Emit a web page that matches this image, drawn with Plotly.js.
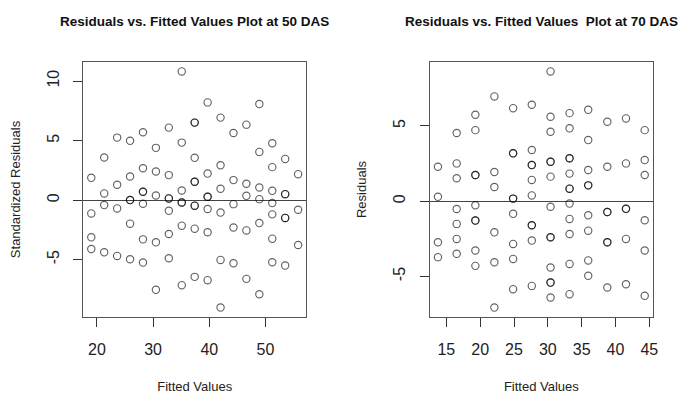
<!DOCTYPE html>
<html>
<head>
<meta charset="utf-8">
<script src="https://cdn.plot.ly/plotly-3.0.1.min.js"></script>
<style>html,body{margin:0;padding:0;background:#fff;}#chart{width:680px;height:394px;}</style>
</head>
<body>
<div id="chart"></div>
<script>
// ---- Data ----
const title50 = "Residuals vs. Fitted Values Plot at 50 DAS";
const title70 = "Residuals vs. Fitted Values\u00a0 Plot at 70 DAS";
const xLabel = "Fitted Values";
const yLabel50 = "Standardized Residuals";
const yLabel70 = "Residuals";
const xTicks50 = [20, 30, 40, 50];
const yTicks50 = [-5, 0, 5, 10];
const xTicks70 = [15, 20, 25, 30, 35, 40, 45];
const yTicks70 = [-5, 0, 5];

const fitted50 = [
  19.0,19.0,19.0,19.0,
  21.3,21.3,21.3,21.3,
  23.6,23.6,23.6,23.6,
  25.9,25.9,25.9,25.9,25.9,25.9,
  28.2,28.2,28.2,28.2,28.2,28.2,28.2,
  30.5,30.5,30.5,30.5,30.5,
  32.8,32.8,32.8,32.8,32.8,32.8,32.8,
  35.1,35.1,35.1,35.1,35.1,35.1,35.1,
  37.4,37.4,37.4,37.4,37.4,37.4,37.4,37.4,37.4,
  39.7,39.7,39.7,39.7,39.7,39.7,39.7,
  42.0,42.0,42.0,42.0,42.0,42.0,
  44.3,44.3,44.3,44.3,44.3,
  46.6,46.6,46.6,46.6,46.6,
  48.9,48.9,48.9,48.9,48.9,48.9,
  51.2,51.2,51.2,51.2,51.2,51.2,51.2,
  53.5,53.5,53.5,53.5,53.5,53.5,
  55.8,55.8,55.8
];
const resid50 = [
  1.87,-1.12,-3.13,-4.11,
  3.58,0.56,-0.42,-4.39,
  5.25,1.29,-0.70,-4.69,
  4.98,1.98,0.00,0.00,-1.98,-4.97,
  5.70,2.68,0.70,0.70,-0.31,-3.30,-5.25,
  4.39,2.40,0.39,-3.55,-7.54,
  6.09,2.10,0.14,0.14,-0.90,-2.85,-4.89,
  10.81,4.83,0.81,-0.20,-0.20,-2.15,-7.15,
  6.51,6.51,3.55,1.54,1.54,-0.47,-0.47,-2.40,-6.45,
  8.21,2.23,0.28,0.28,-0.75,-2.70,-6.73,
  6.93,2.93,0.95,-1.05,-5.03,-9.03,
  5.64,1.68,-0.34,-2.30,-5.31,
  6.34,1.37,0.36,-2.55,-6.62,
  8.07,4.05,1.06,0.08,-1.93,-7.91,
  4.78,2.77,0.78,-0.25,-1.20,-3.24,-5.22,
  3.46,0.50,0.50,-1.50,-1.50,-5.50,
  2.18,-0.81,-3.77
];

const fitted70 = [
  13.76,13.76,13.76,13.76,
  16.53,16.53,16.53,16.53,16.53,16.53,16.53,
  19.29,19.29,19.29,19.29,19.29,19.29,19.29,19.29,19.29,
  22.10,22.10,22.10,22.10,22.10,22.10,
  24.87,24.87,24.87,24.87,24.87,24.87,24.87,24.87,24.87,
  27.63,27.63,27.63,27.63,27.63,27.63,27.63,27.63,27.63,27.63,
  30.40,30.40,30.40,30.40,30.40,30.40,30.40,30.40,30.40,30.40,30.40,30.40,30.40,
  33.21,33.21,33.21,33.21,33.21,33.21,33.21,33.21,33.21,33.21,33.21,33.21,
  35.97,35.97,35.97,35.97,35.97,35.97,35.97,35.97,35.97,
  38.79,38.79,38.79,38.79,38.79,38.79,38.79,
  41.55,41.55,41.55,41.55,41.55,41.55,
  44.32,44.32,44.32,44.32,44.32,44.32
];
const resid70 = [
  2.29,0.29,-2.73,-3.72,
  4.53,2.51,1.52,-0.52,-1.51,-2.51,-3.50,
  5.74,4.72,1.74,1.74,-0.27,-1.29,-1.29,-3.28,-4.30,
  6.96,1.94,0.94,-2.07,-4.06,-7.07,
  6.18,3.18,3.18,0.17,0.17,-0.84,-2.84,-3.84,-5.85,
  6.41,3.40,2.40,2.40,1.41,0.38,-1.60,-1.60,-2.62,-5.63,
  8.62,5.61,4.61,2.62,2.62,1.63,-0.37,-2.40,-2.40,-4.41,-5.41,-5.41,-6.40,
  5.85,4.84,2.85,2.85,1.83,0.83,0.83,-0.16,-1.18,-2.18,-4.17,-6.18,
  6.07,4.06,2.07,1.05,1.05,-0.94,-1.96,-3.94,-4.96,
  5.28,2.29,-0.72,-0.72,-2.73,-2.73,-5.74,
  5.50,2.51,-0.51,-0.51,-2.51,-5.52,
  4.72,2.73,1.74,-1.27,-3.28,-6.29
];

// R-style axis range: data range extended by 4% on each side
function rRange(v) {
  const lo = Math.min(...v), hi = Math.max(...v), d = hi - lo;
  return [lo - 0.04 * d, hi + 0.04 * d];
}

const FONT = "Liberation Sans, Arial, Helvetica, sans-serif";
const TXT = "#222";

const marker = {
  symbol: "circle-open",
  size: 7.3,
  color: "rgba(0,0,0,0.62)",
  line: { width: 1.15, color: "rgba(0,0,0,0.62)" }
};

const traces = [
  { x: fitted50, y: resid50, type: "scatter", mode: "markers", marker: marker,
    xaxis: "x", yaxis: "y", hoverinfo: "x+y" },
  { x: fitted70, y: resid70, type: "scatter", mode: "markers", marker: marker,
    xaxis: "x2", yaxis: "y2", hoverinfo: "x+y" }
];

function xAxis(range, ticks, domain, anchor) {
  return {
    domain: domain, anchor: anchor, range: range,
    tickmode: "array", tickvals: ticks, ticktext: ticks.map(String),
    ticks: "outside", ticklen: 9, tickwidth: 1, tickcolor: "#333",
    showline: true, mirror: true, linecolor: "#555", linewidth: 1,
    showgrid: false, zeroline: false,
    tickfont: { family: FONT, size: 16, color: TXT },
    ticklabelstandoff: 9,
    title: { text: xLabel, font: { family: FONT, size: 13, color: TXT }, standoff: 31 }
  };
}
function yAxis(range, ticks, domain, anchor, label) {
  return {
    domain: domain, anchor: anchor, range: range,
    tickmode: "array", tickvals: ticks, ticktext: ticks.map(String),
    tickangle: -90,
    ticks: "outside", ticklen: 9, tickwidth: 1, tickcolor: "#333",
    showline: true, mirror: true, linecolor: "#555", linewidth: 1,
    showgrid: false,
    zeroline: true, zerolinecolor: "#444", zerolinewidth: 1,
    tickfont: { family: FONT, size: 16, color: TXT },
    ticklabelstandoff: 8,
    title: { text: label, font: { family: FONT, size: 13, color: TXT }, standoff: 21 }
  };
}

const layout = {
  width: 680, height: 394,
  margin: { l: 83.3, r: 26.7, t: 62, b: 77.3, pad: 0 },
  paper_bgcolor: "#fff", plot_bgcolor: "#fff",
  showlegend: false,
  font: { family: FONT, color: TXT },
  xaxis: xAxis(rRange(fitted50), xTicks50, [0, 0.3919], "y"),
  yaxis: yAxis(rRange(resid50), yTicks50, [0, 1], "x", yLabel50),
  xaxis2: xAxis(rRange(fitted70), xTicks70, [0.6082, 1], "y2"),
  yaxis2: yAxis(rRange(resid70), yTicks70, [0, 1], "x2", yLabel70),
  annotations: [
    { text: "<b>" + title50 + "</b>", xref: "x domain", x: 0.5, yref: "paper",
      y: 1 + (62 - 22) / 254.7, xanchor: "center", yanchor: "middle", showarrow: false,
      font: { family: FONT, size: 13.5, color: "#111" } },
    { text: "<b>" + title70 + "</b>", xref: "x2 domain", x: 0.5, yref: "paper",
      y: 1 + (62 - 22) / 254.7, xanchor: "center", yanchor: "middle", showarrow: false,
      font: { family: FONT, size: 13.5, color: "#111" } }
  ]
};

Plotly.newPlot("chart", traces, layout, { staticPlot: true, displayModeBar: false });
</script>
</body>
</html>
